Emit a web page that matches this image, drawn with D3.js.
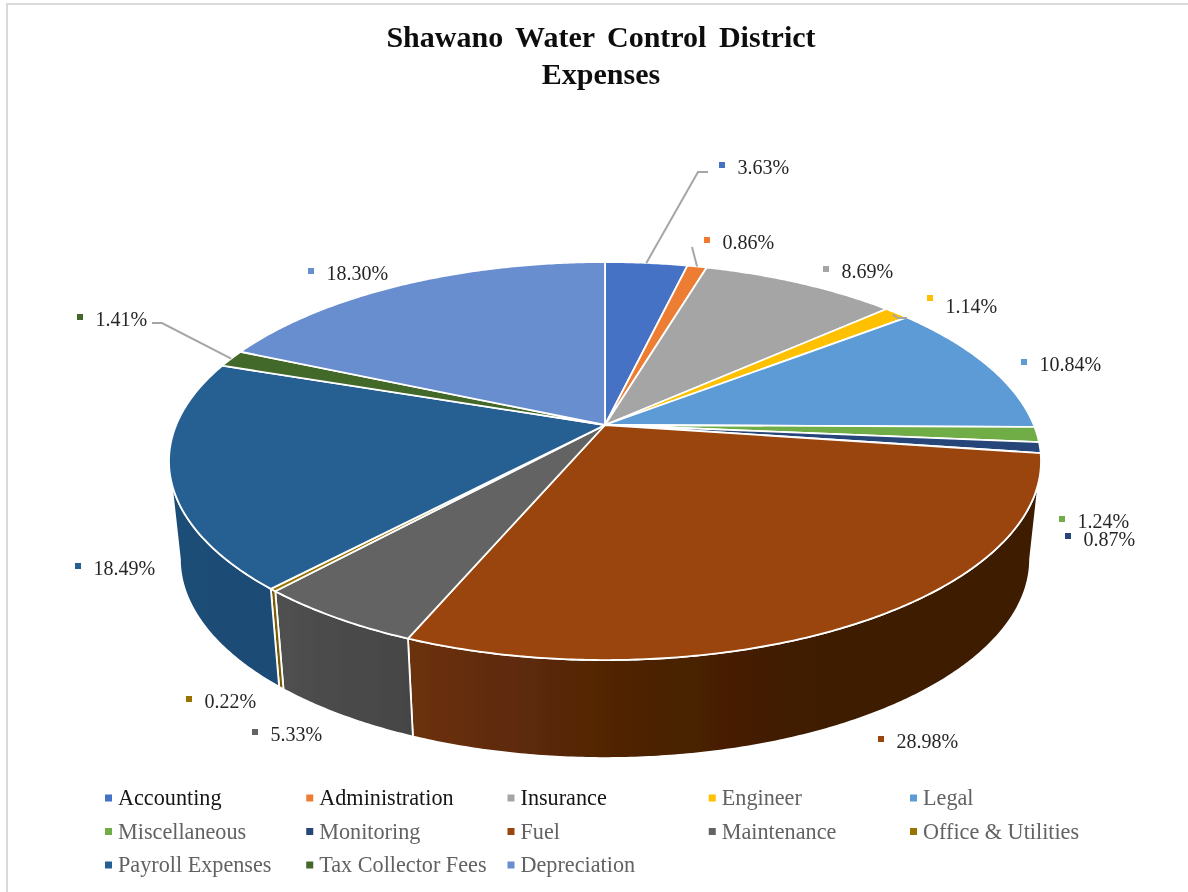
<!DOCTYPE html>
<html><head><meta charset="utf-8">
<script src="https://cdn.jsdelivr.net/npm/d3@7/dist/d3.min.js"></script>
<style>html,body{margin:0;padding:0;background:#fff}svg{display:block}text{font-family:"Liberation Serif",serif}</style>
</head><body><svg id="c" width="1188" height="892"></svg>
<script>
const categories=["Accounting","Administration","Insurance","Engineer","Legal","Miscellaneous","Monitoring","Fuel","Maintenance","Office & Utilities","Payroll Expenses","Tax Collector Fees","Depreciation"];
const shares=[3.63,0.86,8.69,1.14,10.84,1.24,0.87,28.98,5.33,0.22,18.49,1.41,18.30];
const colors=["#4472C4","#ED7D31","#A5A5A5","#FFC000","#5B9BD5","#70AD47","#264478","#9A450B","#636363","#997300","#255E91","#43682B","#698ED0"];
const titleLines=["Shawano Water Control District","Expenses"];
const darkLegend=["Accounting","Administration","Insurance"];

// layout only: data-label anchors (marker centre) and vertical text shift
const labelAnchors=[[722,165],[707,240],[826,269],[930,298],[1024,362],[1062,519],[1068,536],[881,739],[255,732],[189,699],[78,566],[80,317],[311,271]];
const labelTextShift=[0,0,0,6,0,0,1,0,0,0,0,0,0];
// layout only: leader-line elbows, keyed by slice index
const leaders=new Map([[0,[[698,172],[708,172]]],[1,[[692,247]]],[3,[[898,318],[907,318]]],[11,[[162,323],[152,323]]]]);

const W=1188,H=892;
const svg=d3.select("#c");
const defs=svg.append("defs");
defs.append("filter").attr("id","soft").attr("x",0).attr("y",0).attr("width",1).attr("height",1)
  .attr("filterUnits","objectBoundingBox")
  .append("feGaussianBlur").attr("stdDeviation",0.6);
const root=svg.append("g").attr("filter","url(#soft)");
root.append("rect").attr("width",W).attr("height",H).attr("fill","#fff");

// chart frame
root.append("path").attr("d","M7,892V4H1188").attr("fill","none").attr("stroke","#d9d9d9").attr("stroke-width",2);

// perspective pie
const cx=605,cy=425,R=428.8,K=192.5,p=0.181;
const topLevel={x:1,cy:cy},baseLevel={x:0.975,cy:523};
function project(a,level,r=1){
  const u=Math.sin(a)*r,v=-Math.cos(a)*r,w=1-p*v;
  return [cx+level.x*R*u/w, level.cy+K*v/w];
}
// the side wall is visible only between the two widest points of the disc
const silhouetteStart=Math.acos(-p),silhouetteEnd=2*Math.PI-silhouetteStart;
const pie=d3.pie().sort(null).value(d=>d)(shares);
const arcs=pie.map((d,i)=>({...d,i,name:categories[i],color:colors[i]}));
const line=d3.line();
function samples(a0,a1){
  const n=Math.max(2,Math.ceil((a1-a0)/(Math.PI/360)));
  return d3.range(n+1).map(k=>a0+(a1-a0)*k/n);
}
// wall shading follows horizontal position
const shade=d3.scaleLinear().domain([170,280,413,650,850,1045]).range([0.82,0.8,0.7,0.49,0.39,0.39]);
function darker(col,f){const c=d3.rgb(col);return d3.rgb(c.r*f,c.g*f,c.b*f).formatHex();}

const walls=root.append("g");
arcs.forEach(d=>{
  const a0=Math.max(d.startAngle,silhouetteStart),a1=Math.min(d.endAngle,silhouetteEnd);
  if(a1<=a0) return;
  const ss=samples(a0,a1);
  const top=ss.map(a=>project(a,topLevel));
  const base=ss.slice().reverse().map(a=>project(a,baseLevel));
  const xs=top.concat(base).map(q=>q[0]);
  const x0=d3.min(xs),x1=d3.max(xs);
  const id="wall"+d.i;
  const g=defs.append("linearGradient").attr("id",id).attr("gradientUnits","userSpaceOnUse")
    .attr("x1",x0).attr("x2",x1).attr("y1",0).attr("y2",0);
  d3.range(0,1.0001,0.1).forEach(t=>{
    g.append("stop").attr("offset",t).attr("stop-color",darker(d.color,shade(x0+(x1-x0)*t)));
  });
  walls.append("path").attr("d",line(top.concat(base))+"Z")
    .attr("fill",`url(#${id})`).attr("stroke","#fff").attr("stroke-width",1.8).attr("stroke-linejoin","round");
});

const faces=root.append("g");
arcs.forEach(d=>{
  const pts=[[cx,cy]].concat(samples(d.startAngle,d.endAngle).map(a=>project(a,topLevel)));
  faces.append("path").attr("d",line(pts)+"Z").attr("fill",d.color)
    .attr("stroke","#fff").attr("stroke-width",1.8).attr("stroke-linejoin","round");
});

// leader lines
const leaderG=root.append("g");
leaders.forEach((elbows,i)=>{
  const d=arcs[i];
  const start=project((d.startAngle+d.endAngle)/2,topLevel,i===3?0.985:1);
  leaderG.append("path").attr("d",line([start].concat(elbows))).attr("fill","none")
    .attr("stroke","#a6a6a6").attr("stroke-width",2);
});

// data labels
const labels=root.append("g");
arcs.forEach(d=>{
  const [mx,my]=labelAnchors[d.i];
  labels.append("rect").attr("x",mx-3).attr("y",my-3).attr("width",6).attr("height",6).attr("fill",d.color);
  labels.append("text").attr("x",mx+15.5).attr("y",my+9+labelTextShift[d.i]).attr("font-size",20).attr("fill","#262626")
    .text(d.value.toFixed(2)+"%");
});

// title
titleLines.forEach((t,i)=>{
  root.append("text").attr("x",601).attr("y",47+i*36.5).attr("text-anchor","middle")
    .attr("font-size",30).attr("font-weight","bold").attr("fill","#111").attr("word-spacing",5).text(t);
});

// legend
const nCols=5;
const colX=d3.scalePoint().domain(d3.range(nCols)).range([108.5,913.5]);
const rowY=d3.scalePoint().domain(d3.range(3)).range([798,865]);
const legend=root.append("g");
categories.forEach((name,i)=>{
  const x=colX(i%nCols),y=rowY(Math.floor(i/nCols));
  legend.append("rect").attr("x",x-3.5).attr("y",y-3.5).attr("width",7).attr("height",7).attr("fill",colors[i]);
  legend.append("text").attr("x",x+9.5).attr("y",y+7).attr("font-size",22.2)
    .attr("fill",darkLegend.includes(name)?"#151515":"#626262").text(name);
});
</script></body></html>
